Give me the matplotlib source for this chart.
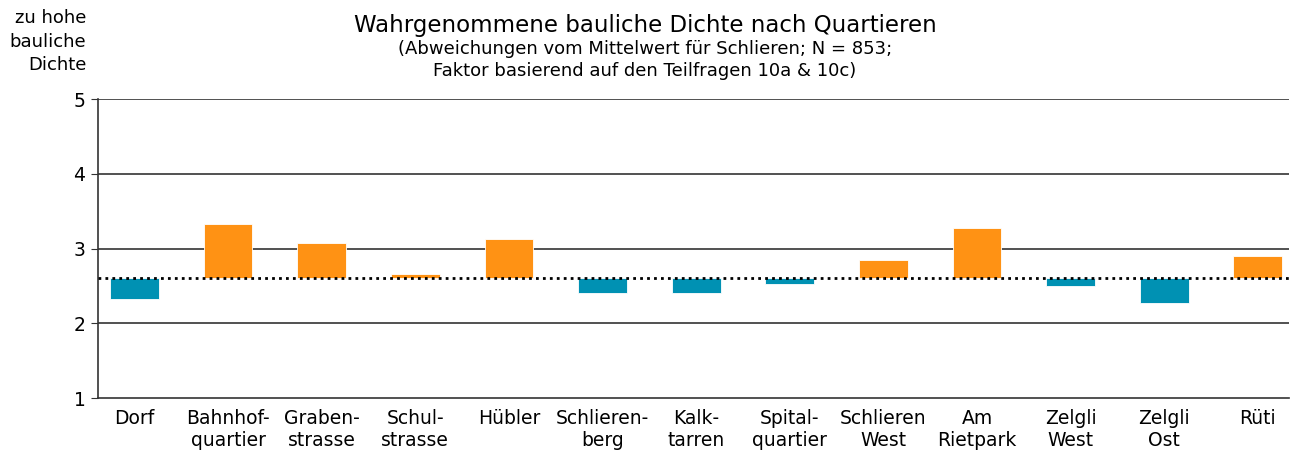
import numpy as np
import matplotlib.pyplot as plt

plt.rcParams['font.family'] = ['DejaVu Sans']

# Data
quartiere = ['Dorf', 'Bahnhof-\nquartier', 'Graben-\nstrasse', 'Schul-\nstrasse', 'Hübler',
             'Schlieren-\nberg', 'Kalk-\ntarren', 'Spital-\nquartier', 'Schlieren\nWest',
             'Am\nRietpark', 'Zelgli\nWest', 'Zelgli\nOst', 'Rüti']
werte = [2.33, 3.33, 3.08, 2.66, 3.13, 2.41, 2.41, 2.53, 2.85, 3.28, 2.50, 2.27, 2.90]
mittelwert = 2.60
y_ticks = [1, 2, 3, 4, 5]

fig = plt.figure(figsize=(12.9, 4.57), dpi=100)
ax = fig.add_axes([0.076, 0.129, 0.923, 0.654])

x = np.arange(len(quartiere))
werte = np.array(werte)
farben = ['#FF9214' if w >= mittelwert else '#0091B3' for w in werte]

for yv in y_ticks[1:]:
    ax.axhline(yv, color='#333333', lw=1.2, zorder=1)

ax.bar(x, werte - mittelwert, bottom=mittelwert, width=0.52, color=farben,
       edgecolor='white', linewidth=0.6, zorder=2)
ax.axhline(mittelwert, color='black', lw=2, ls=(0, (1, 1.5)), zorder=3)

ax.set_xlim(-0.39, 12.33)
ax.set_ylim(1, 5)
ax.set_yticks(y_ticks)
ax.set_xticks(x)
ax.set_xticklabels(quartiere, fontsize=13.5, linespacing=1.2)
ax.tick_params(axis='x', length=0, pad=8)
ax.tick_params(axis='y', labelsize=13.5, length=5, color='#333333', pad=4)

for s in ['top', 'right']:
    ax.spines[s].set_visible(False)
for s in ['left', 'bottom']:
    ax.spines[s].set_color('#333333')
    ax.spines[s].set_linewidth(1.2)

fig.text(0.5, 0.945, 'Wahrgenommene bauliche Dichte nach Quartieren',
         ha='center', va='center', fontsize=16.5)
fig.text(0.5, 0.869, '(Abweichungen vom Mittelwert für Schlieren; N = 853;\n'
         'Faktor basierend auf den Teilfragen 10a & 10c)',
         ha='center', va='center', fontsize=13, linespacing=1.25)
fig.text(0.067, 0.98, 'zu hohe\nbauliche\nDichte', ha='right', va='top',
         fontsize=13, linespacing=1.4)

fig.savefig('out.png', dpi=100)
